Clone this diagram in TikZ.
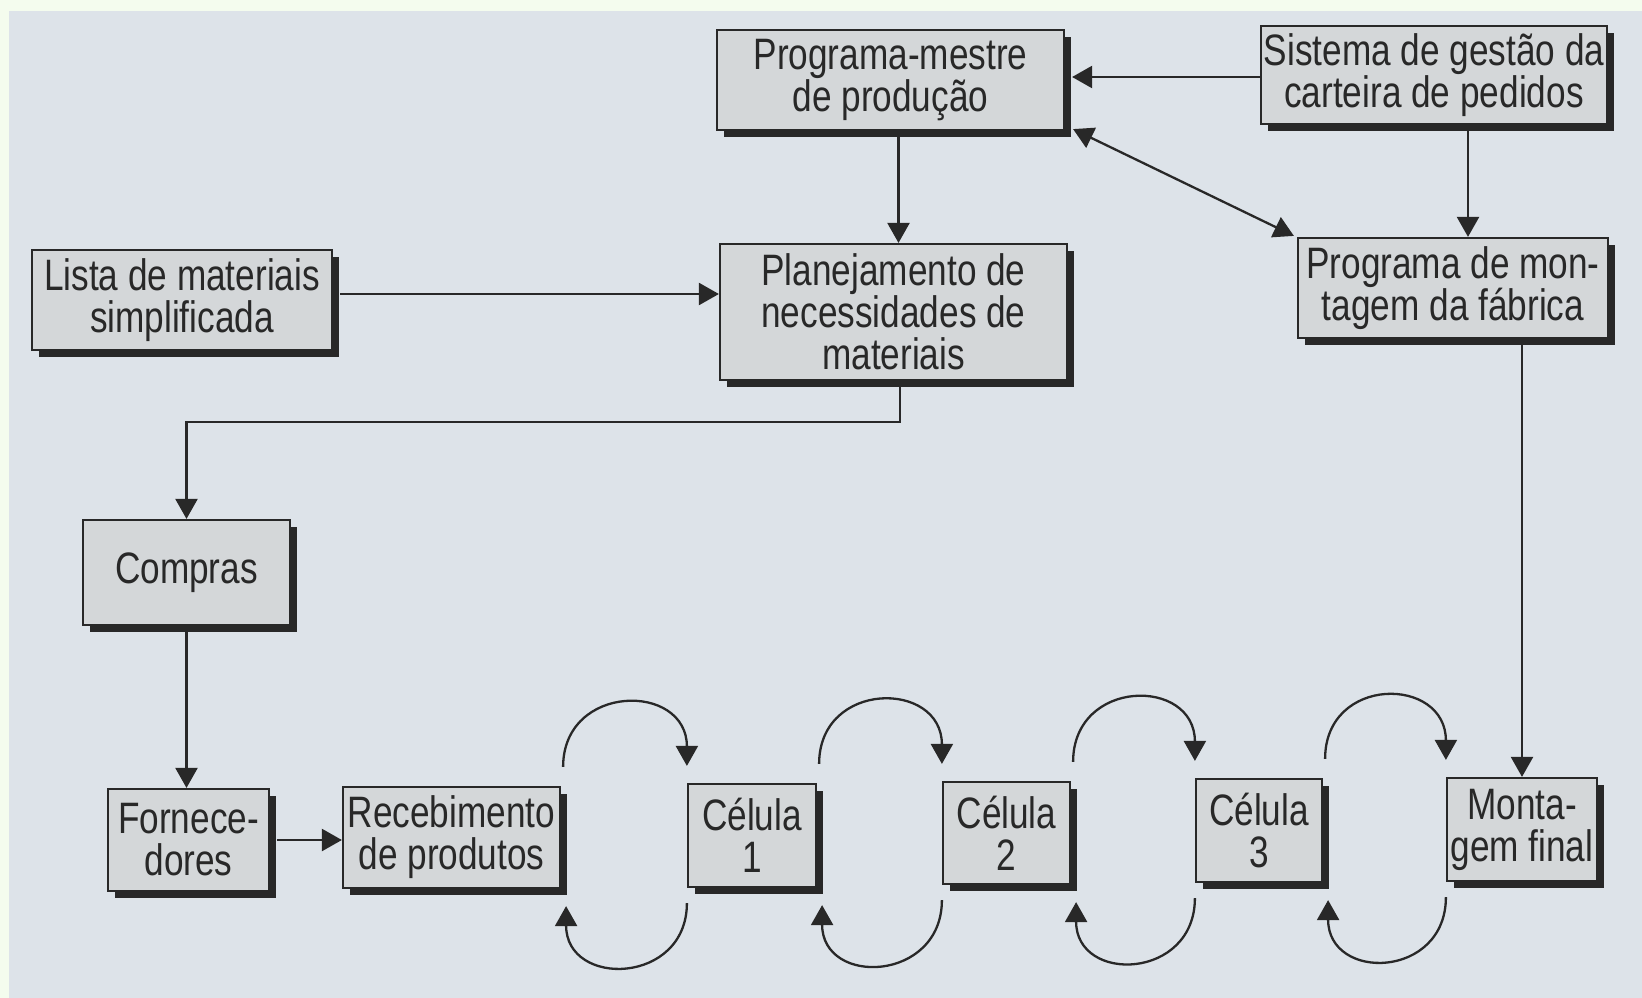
\documentclass[tikz,border=0pt]{standalone}
\usepackage{fontspec}
\setmainfont{Liberation Sans}[FakeStretch=0.8]
\usetikzlibrary{arrows.meta,calc,shadows}
\definecolor{bgc}{RGB}{221,227,233}
\definecolor{framec}{RGB}{244,252,238}
\definecolor{boxc}{RGB}{212,215,217}
\definecolor{ink}{RGB}{40,40,40}
\begin{document}
\begin{tikzpicture}[x=1pt,y=-1pt,
  box/.style={draw=ink, line width=2.2pt, fill=boxc, text=ink, align=center, inner sep=0pt,
     font=\fontsize{44}{42}\selectfont,
     general shadow={fill=ink, shadow xshift=7pt, shadow yshift=-7pt}},
  conn/.style={draw=ink, line width=2.3pt, -{Triangle[length=20pt,width=22pt]}},
  dconn/.style={draw=ink, line width=2.3pt, {Triangle[length=20pt,width=22pt]}-{Triangle[length=20pt,width=22pt]}},
  ]
\fill[framec] (0,0) rectangle (1642,998);
\fill[bgc] (9,11) rectangle (1642,998);
\useasboundingbox (0,0) rectangle (1642,998);

\node[box, minimum width=347pt, minimum height=100pt, font=\fontsize{44}{39}\selectfont] (pm) at (890.5,80) {Programa-mestre\\de produção};
\node[box, minimum width=346pt, minimum height=98pt] (sg) at (1434,75) {Sistema de gestão da\\carteira de pedidos};
\node[box, minimum width=310pt, minimum height=100pt] (pmf) at (1453,288) {Programa de mon-\\tagem da fábrica};
\node[box, minimum width=300pt, minimum height=100pt] (lista) at (182,300) {Lista de materiais\\simplificada};
\node[box, minimum width=347pt, minimum height=136pt] (plan) at (893.5,312) {Planejamento de\\necessidades de\\materiais};
\node[box, minimum width=207pt, minimum height=105pt] (compras) at (186.5,572.5) {Compras};
\node[box, minimum width=161pt, minimum height=102pt] (forn) at (188.5,840) {Fornece-\\dores};
\node[box, minimum width=217pt, minimum height=101pt] (rec) at (451.5,837.5) {Recebimento\\de produtos};
\node[box, minimum width=128pt, minimum height=103pt] (c1) at (752,835.5) {Célula\\1};
\node[box, minimum width=127pt, minimum height=102pt] (c2) at (1006.5,833) {Célula\\2};
\node[box, minimum width=126pt, minimum height=103pt] (c3) at (1259,830.5) {Célula\\3};
\node[box, minimum width=150pt, minimum height=103pt] (mf) at (1522,829.5) {Monta-\\gem final};

% straight connectors
\draw[conn] ($(sg.west)+(0,2)$) -- ($(sg.west -| pm.east)+(7,2)$);
\draw[dconn] ($(pm.south east)+(8,-2)$) -- ($(pmf.north west)+(-3,-1)$);
\draw[conn] ([xshift=8pt]pm.south) -- ([xshift=8pt]pm.south |- plan.north);
\draw[conn] ([xshift=34pt]sg.south) -- ([xshift=34pt]sg.south |- pmf.north);
\coordinate (l1) at ($(lista.east)+(7,-6)$);
\draw[conn] (l1) -- (l1 -| plan.west);
\draw[conn] ([xshift=6.5pt]plan.south) -- ++(0,41) -| (compras.north);
\draw[conn] (compras.south) -- (compras.south |- forn.north);
\coordinate (f1) at ($(forn.east)+(7,0)$);
\draw[conn] (f1) -- (f1 -| rec.west);
\draw[conn] (mf.north |- pmf.south) -- (mf.north);

% arcs
\foreach \a/\b in {rec/c1, c1/c2, c2/c3, c3/mf}{
  \draw[conn] ($(\a.north east)+(2,-19)$) .. controls +(0,-84) and +(0,-84) .. ($(\b.north west)+(0,-17)$);
  \draw[conn] ($(\b.south west)+(0,15)$) .. controls +(0,82) and +(0,82) .. ($(\a.south east)+(5,17)$);
}
\end{tikzpicture}
\end{document}
